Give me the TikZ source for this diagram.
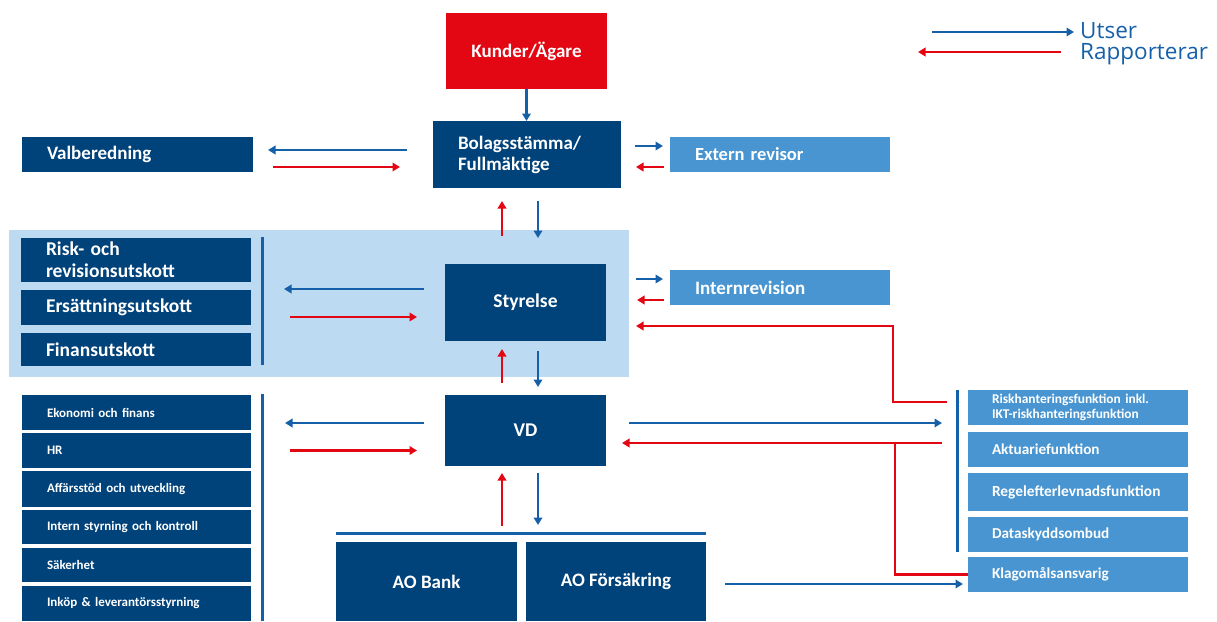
\documentclass[tikz,border=0pt]{standalone}
\usepackage{fontspec}
\setmainfont{Carlito}
\newfontfamily\legfont{Open Sans}
\usetikzlibrary{arrows.meta,calc}
\definecolor{dblue}{HTML}{00427A}
\definecolor{lblue}{HTML}{4895D1}
\definecolor{panel}{HTML}{BCDAF2}
\definecolor{ablue}{HTML}{1560A8}
\definecolor{ared}{HTML}{E30613}
\definecolor{kred}{HTML}{E30613}
\newcommand\fs[2]{\fontsize{#1}{#2}\selectfont}
\newcommand\lbox[7]{%
  \pgfmathsetmacro\tw{#5-50}%
  \node[#2, anchor=north west, minimum width=#5pt, minimum height=#6pt,
        text width=\tw pt, inner xsep=25pt, inner ysep=0pt, outer sep=0pt, align=left] (#1) at (#3,#4) {#7};}
\newcommand\rbox[7]{%
  \node[#2, anchor=north west, minimum width=#5pt, minimum height=#6pt,
        text width=172pt, inner xsep=24pt, inner ysep=0pt, outer sep=0pt, align=left] (#1) at (#3,#4) {#7};}
\newcommand\cbox[7]{%
  \node[#2, anchor=north west, minimum width=#5pt, minimum height=#6pt,
        inner sep=0pt, outer sep=0pt, align=center] (#1) at (#3,#4) {#7};}
\tikzset{
  dk/.style={fill=dblue, text=white},
  lt/.style={fill=lblue, text=white},
  barr/.style={draw=ablue, line width=2.4pt, -{Triangle[length=7.5pt,width=8.5pt]}},
  rarr/.style={draw=ared, line width=2.4pt, -{Triangle[length=7.5pt,width=8.5pt]}},
  rln/.style={draw=ared, line width=2.4pt},
  sepl/.style={draw=ablue, line width=3pt},
  legend/.style={text=ablue, font=\legfont\fs{22.5}{21}, inner sep=0pt, align=left}
}
\begin{document}
\begin{tikzpicture}[x=1pt,y=-1pt]
\useasboundingbox (0,0) rectangle (1217,621);
% panel
\fill[panel] (9,230) rectangle (629,377);
% top
\cbox{kund}{fill=kred,text=white,font=\bfseries\fs{19}{21}}{446}{13}{161}{76}{Kunder/Ägare}
\lbox{bolag}{dk,font=\bfseries\fs{19}{21}}{433}{121}{188}{67}{Bolagsstämma/\\Fullmäktige}
\lbox{valb}{dk,font=\bfseries\fs{19}{21}}{22}{137}{231}{35}{Valberedning}
\lbox{ext}{lt,font=\bfseries\fs{18.5}{21}}{670}{137}{220}{35}{Extern revisor}
% committees
\lbox{riskc}{dk,font=\bfseries\fs{19.5}{22}}{21}{238}{230}{44}{Risk- och\\revisionsutskott}
\lbox{ers}{dk,font=\bfseries\fs{19.5}{22}}{21}{290}{230}{35}{Ersättningsutskott}
\lbox{fin}{dk,font=\bfseries\fs{19.5}{22}}{21}{333}{230}{33}{Finansutskott}
\cbox{styr}{dk,font=\bfseries\fs{19.5}{22}}{445}{264}{161}{77}{Styrelse}
\lbox{intern}{lt,font=\bfseries\fs{19}{22}}{670}{270}{220}{35}{Internrevision}
% VD level
\cbox{vd}{dk,font=\bfseries\fs{19.5}{22}}{445}{395}{161}{71}{VD}
\lbox{eko}{dk,font=\bfseries\fs{13}{15}}{22}{395}{229}{35}{Ekonomi och finans}
\lbox{hr}{dk,font=\bfseries\fs{13}{15}}{22}{433}{229}{35}{HR}
\lbox{aff}{dk,font=\bfseries\fs{13}{15}}{22}{471}{229}{36}{Affärsstöd och utveckling}
\lbox{ist}{dk,font=\bfseries\fs{13}{15}}{22}{510}{229}{34}{Intern styrning och kontroll}
\lbox{sak}{dk,font=\bfseries\fs{13}{15}}{22}{548}{229}{34}{Säkerhet}
\lbox{ink}{dk,font=\bfseries\fs{13}{15}}{22}{586}{229}{35}{Inköp \& leverantörsstyrning}
% AO
\cbox{aob}{dk,font=\bfseries\fs{19}{21}}{336}{542}{181}{79}{AO Bank}
\cbox{aof}{dk,font=\bfseries\fs{19}{21}}{526}{542}{180}{79}{AO Försäkring}
\coordinate (aobar) at (521,533);
% right column
\rbox{risk}{lt,font=\bfseries\fs{13.4}{14.5}}{968}{390}{220}{35}{Riskhanteringsfunktion inkl.\\IKT-riskhanteringsfunktion}
\rbox{akt}{lt,font=\bfseries\fs{15.2}{17}}{968}{432}{220}{35}{Aktuariefunktion}
\rbox{regel}{lt,font=\bfseries\fs{15.4}{17}}{968}{473}{220}{38}{Regelefterlevnadsfunktion}
\rbox{data}{lt,font=\bfseries\fs{15.2}{17}}{968}{517}{220}{35}{Dataskyddsombud}
\rbox{klag}{lt,font=\bfseries\fs{15.2}{17}}{968}{557}{220}{35}{Klagomålsansvarig}
% separator lines
\draw[sepl] (262,237) -- (262,365);
\draw[sepl] (262,394) -- (262,621);
\draw[sepl] (957,390) -- (957,552);
\draw[sepl] (336,533) -- (706,533);
% legend
\node[legend, anchor=north west] (leg) at (1080,22) {Utser\\Rapporterar};
\coordinate (legw) at (leg.north west);
\draw[barr] ($(legw)+(-148,10)$) -- ($(legw)+(-6,10)$);
\draw[rarr] ($(legw)+(-19,30)$) -- ($(legw)+(-162,30)$);
% connectors
\draw[barr] (kund.south) -- (kund.south |- bolag.north);
\draw[barr] ($(bolag.west)+(-26,-4.5)$) -- ($(valb.east)+(15,-4.5)$);
\draw[rarr] ($(valb.east)+(20,12.5)$) -- ($(bolag.west)+(-33,12.5)$);
\draw[barr] ($(bolag.east)+(14,-8.5)$) -- ($(ext.west)+(-7,-8.5)$);
\draw[rarr] ($(ext.west)+(-6,12.5)$) -- ($(bolag.east)+(15,12.5)$);
\draw[rarr] ($(styr.north)+(-23.5,-28)$) -- ($(bolag.south)+(-25,13)$);
\draw[barr] ($(bolag.south)+(11,13)$) -- ($(styr.north)+(12.5,-26)$);
\draw[barr] ($(styr.west)+(-21,-13.5)$) -- ($(ers.east)+(33,-18.5)$);
\draw[rarr] ($(ers.east)+(39,9.5)$) -- ($(styr.west)+(-28,14.5)$);
\draw[barr] ($(styr.east)+(30,-23.5)$) -- ($(intern.west)+(-7,-8.5)$);
\draw[rarr] ($(intern.west)+(-6,12.5)$) -- ($(styr.east)+(31,-2.5)$);
\draw[rarr] ($(risk.west)+(-21,-5.5)$) -| ($(styr.east)+(287,23.5)$) -- ($(styr.east)+(30,23.5)$);
\draw[rarr] ($(vd.north)+(-23.5,-12)$) -- ($(styr.south)+(-23.5,8)$);
\draw[barr] ($(styr.south)+(12.5,10)$) -- ($(vd.north)+(12.5,-8)$);
\draw[barr] ($(vd.west)+(-21,-7.5)$) -- ($(eko.east)+(34,10.5)$);
\draw[rarr] ($(hr.east)+(39,0)$) -- ($(vd.west)+(-28,20)$);
\draw[barr] ($(vd.east)+(23,-7.5)$) -- ($(akt.west)+(-26,-26.5)$);
\draw[rarr] ($(akt.west)+(-26,-6.5)$) -- ($(vd.east)+(16,12.5)$);
\draw[rln] (klag.west) -| ($(vd.east)+(289,12.5)$);
\draw[rarr] ($(aobar)+(-19,-7)$) -- ($(vd.south)+(-23.5,7)$);
\draw[barr] ($(vd.south)+(12.5,7)$) -- ($(aobar)+(17,-8)$);
\draw[barr] ($(aof.east)+(19,2.5)$) -- ($(klag.west)+(-5,9.5)$);
\end{tikzpicture}
\end{document}
